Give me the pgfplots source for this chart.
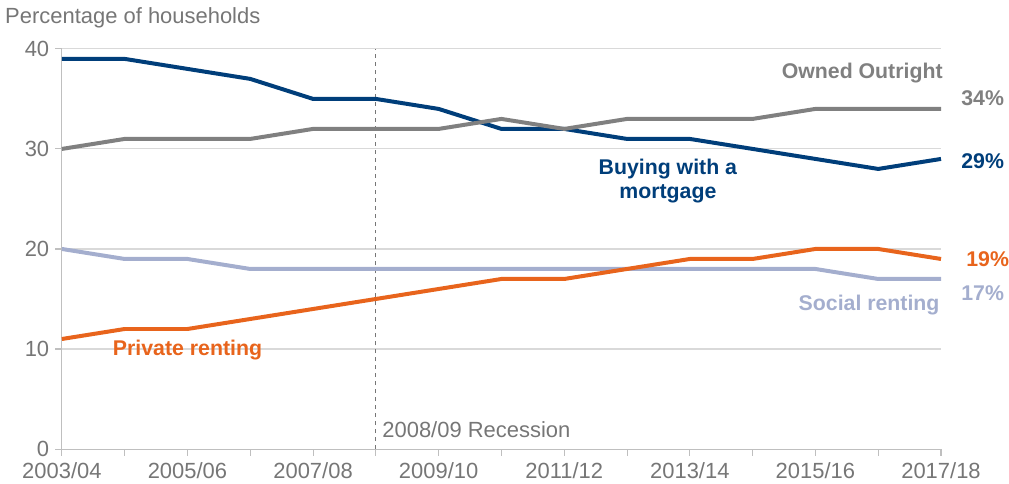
\documentclass[border=0pt]{standalone}
\usepackage{fontspec}
\setmainfont{Liberation Sans}
\usepackage{pgfplots}
\pgfplotsset{compat=1.18}
\usetikzlibrary{calc}
\definecolor{mortblue}{RGB}{0,62,122}
\definecolor{ownedgrey}{RGB}{128,128,128}
\definecolor{socialblue}{RGB}{164,174,206}
\definecolor{privorange}{RGB}{232,100,28}
\definecolor{textgrey}{RGB}{118,118,118}
\definecolor{axgrey}{RGB}{191,191,191}
\definecolor{gridgrey}{RGB}{217,217,217}

\begin{document}
\begin{tikzpicture}
\begin{axis}[
  name=ax,
  scale only axis,
  width=660.75pt, height=300.75pt,
  xmin=0, xmax=14, ymin=0, ymax=40,
  axis x line*=bottom, axis y line*=left,
  axis line style={axgrey, line width=0.8pt},
  xtick={0,1,...,14},
  xticklabels={2003/04,,2005/06,,2007/08,,2009/10,,2011/12,,2013/14,,2015/16,,2017/18},
  ytick={0,10,20,30,40},
  tick align=outside,
  major tick length=5pt,
  tick style={axgrey, line width=0.8pt},
  ymajorgrids,
  grid style={gridgrey, line width=0.8pt},
  tick label style={font=\fontsize{16.5}{19}\selectfont, text=textgrey},
  /pgf/number format/assume math mode=true,
  y tick label style={xshift=-1pt},
  x tick label style={yshift=-2pt},
  clip=false,
  every axis plot/.append style={line width=3pt, line join=round},
]
\draw[textgrey, dashed, line width=0.6pt] (axis cs:5,0) -- (axis cs:5,40);

\addplot[mortblue] coordinates {
  (0,39) (1,39) (2,38) (3,37) (4,35) (5,35) (6,34) (7,32)
  (8,32) (9,31) (10,31) (11,30) (12,29) (13,28) (14,29)};
\addplot[ownedgrey] coordinates {
  (0,30) (1,31) (2,31) (3,31) (4,32) (5,32) (6,32) (7,33)
  (8,32) (9,33) (10,33) (11,33) (12,34) (13,34) (14,34)};
\addplot[socialblue] coordinates {
  (0,20) (1,19) (2,19) (3,18) (4,18) (5,18) (6,18) (7,18)
  (8,18) (9,18) (10,18) (11,18) (12,18) (13,17) (14,17)};
\addplot[privorange] coordinates {
  (0,11) (1,12) (2,12) (3,13) (4,14) (5,15) (6,16) (7,17)
  (8,17) (9,18) (10,19) (11,19) (12,20) (13,20) (14,19)};

\begin{scope}[every node/.style={font=\fontsize{16}{19}\selectfont\bfseries, inner sep=0pt}]
\node[anchor=east, text=ownedgrey] at (axis cs:14.03,37.6) {Owned Outright};
\node[anchor=west, text=ownedgrey] at (axis cs:14.32,35.1) {34\%};
\node[anchor=west, text=mortblue] at (axis cs:14.32,28.8) {29\%};
\node[anchor=west, text=privorange] at (axis cs:14.40,18.95) {19\%};
\node[anchor=west, text=socialblue] at (axis cs:14.32,15.56) {17\%};
\node[anchor=east, text=socialblue] at (axis cs:13.98,14.36) {Social renting};
\node[anchor=west, text=privorange] at (axis cs:0.81,9.88) {Private renting};
\node[align=center, text=mortblue] at (axis cs:9.65,26.8) {Buying with a\\[-1pt]mortgage};
\end{scope}
\node[anchor=west, inner sep=0pt, text=textgrey, font=\fontsize{16.5}{19}\selectfont] at (axis cs:5.10,1.9) {2008/09 Recession};
\node[anchor=west, inner sep=0pt, text=textgrey, font=\fontsize{16.5}{19}\selectfont] at (axis cs:-0.906,43.1) {Percentage of households};
\end{axis}
\path[use as bounding box] ($(ax.south west)+(-46.5pt,-25.5pt)$) rectangle ($(ax.north east)+(49.5pt,36.75pt)$);
\end{tikzpicture}
\end{document}
